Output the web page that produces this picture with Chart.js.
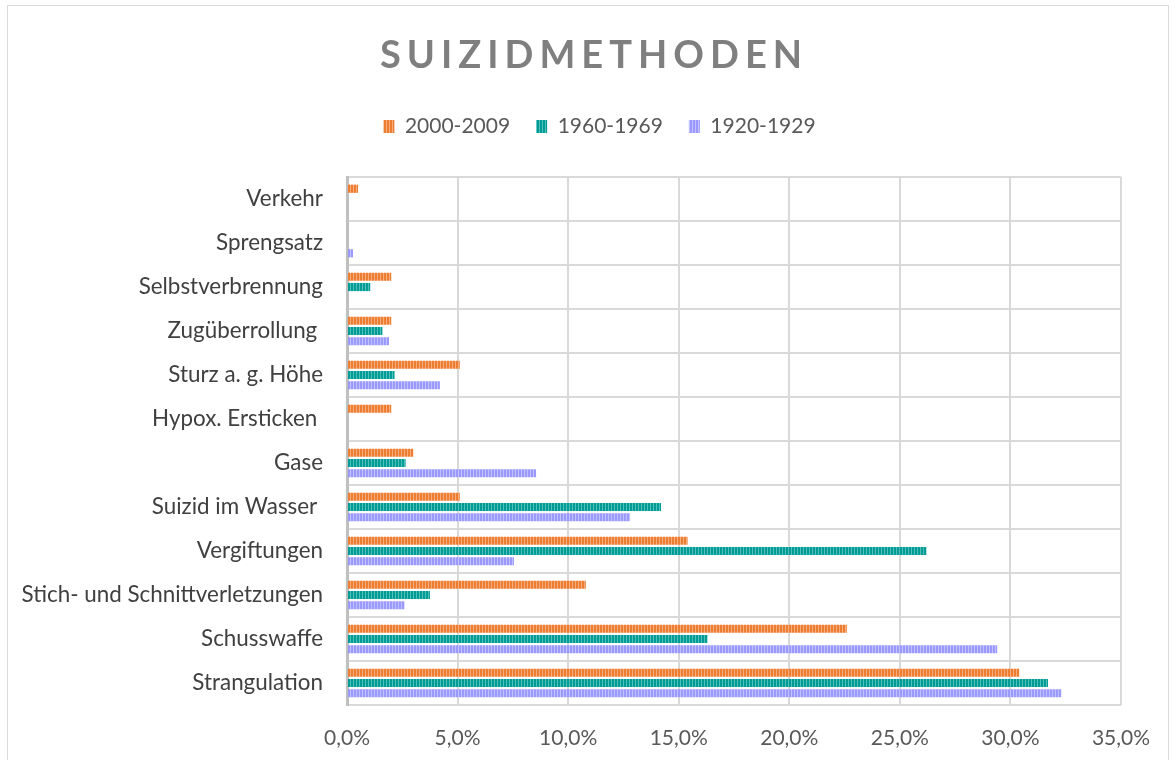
<!DOCTYPE html>
<html>
<head>
<meta charset="utf-8">
<script src="https://cdn.jsdelivr.net/npm/chart.js@4.4.1/dist/chart.umd.min.js"></script>
<style>
  html, body { margin: 0; padding: 0; background: #fff; }
  #wrap { position: absolute; left: 0; top: 0; width: 1176px; height: 760px; }
  #frame { position: absolute; left: 7px; top: 5px; width: 1162px; height: 770px; border: 1.5px solid #d9d9d9; box-sizing: border-box; pointer-events: none; }
</style>
</head>
<body>
<div id="wrap">
  <canvas id="suizidChart"></canvas>
  <div id="frame"></div>
</div>
<script>
// categories, top to bottom
const methods = [
  'Verkehr', 'Sprengsatz', 'Selbstverbrennung', 'Zugüberrollung ', 'Sturz a. g. Höhe',
  'Hypox. Ersticken ', 'Gase', 'Suizid im Wasser ', 'Vergiftungen',
  'Stich- und Schnittverletzungen', 'Schusswaffe', 'Strangulation'
];
// share in percent
const years2000 = [0.5, 0, 2.0, 2.0, 5.1, 2.0, 3.0, 5.1, 15.4, 10.8, 22.6, 30.4];
const years1960 = [0, 0, 1.05, 1.6, 2.15, 0, 2.65, 14.2, 26.2, 3.75, 16.3, 31.7];
const years1920 = [0, 0.27, 0, 1.9, 4.2, 0, 8.55, 12.8, 7.55, 2.6, 29.4, 32.3];
const xTicks = [0, 5, 10, 15, 20, 25, 30, 35];

const textGray = '#595959';
const fontFam = 'Lato, "Open Sans", sans-serif';

// vertical stripe pattern like the Excel fill
function stripes(dark, light) {
  const c = document.createElement('canvas');
  c.width = 3; c.height = 4;
  const g = c.getContext('2d');
  g.fillStyle = dark; g.fillRect(0, 0, 2, 4);
  g.fillStyle = light; g.fillRect(2, 0, 1, 4);
  return g.createPattern(c, 'repeat');
}

const ctx = document.getElementById('suizidChart').getContext('2d');

// title with letter spacing, legend nudged to where Excel puts it
const spacedTitle = {
  id: 'spacedTitle',
  afterLayout(chart) {
    const lg = chart.legend;
    lg.left += 34; lg.right += 34;
    lg.top -= 30; lg.bottom -= 30;
  },
  afterDraw(chart) {
    const c = chart.ctx;
    c.save();
    c.font = 'bold 38px ' + fontFam;
    c.fillStyle = '#7f7f7f';
    c.letterSpacing = '6px';
    c.textAlign = 'center';
    c.textBaseline = 'middle';
    c.fillText('SUIZIDMETHODEN', 594, 56);
    c.restore();
  }
};

new Chart(ctx, {
  type: 'bar',
  data: {
    labels: methods,
    datasets: [
      { label: '2000-2009', data: years2000, backgroundColor: stripes('#ed7d31', '#f5ad7e') },
      { label: '1960-1969', data: years1960, backgroundColor: stripes('#009b94', '#4fc0ba') },
      { label: '1920-1929', data: years1920, backgroundColor: stripes('#9999ff', '#c2c2ff') }
    ]
  },
  options: {
    indexAxis: 'y',
    responsive: true,
    maintainAspectRatio: false,
    animation: false,
    categoryPercentage: 0.7,
    barPercentage: 0.8,
    layout: { padding: { top: 120, left: 10, right: 55, bottom: 0 } },
    scales: {
      x: {
        min: 0,
        max: 35,
        afterBuildTicks: axis => { axis.ticks = xTicks.map(v => ({ value: v })); },
        afterFit: axis => { axis.height = 55; },
        ticks: {
          color: textGray,
          font: { family: fontFam, size: 21 },
          padding: 21,
          callback: v => v.toFixed(1).replace('.', ',') + '%'
        },
        grid: { color: '#d9d9d9', lineWidth: 2, drawTicks: false },
        border: { display: false }
      },
      y: {
        afterFit: axis => { axis.width = 337; },
        ticks: {
          color: '#404040',
          font: { family: fontFam, size: 22.4 },
          padding: 24
        },
        grid: { color: '#d9d9d9', lineWidth: 2, drawTicks: false },
        border: { color: '#bfbfbf', width: 3 }
      }
    },
    plugins: {
      legend: {
        position: 'top',
        labels: {
          color: textGray,
          font: { family: fontFam, size: 21 },
          boxWidth: 11,
          boxHeight: 13,
          padding: 26
        }
      },
      tooltip: { enabled: false }
    }
  },
  plugins: [spacedTitle]
});
</script>
</body>
</html>
